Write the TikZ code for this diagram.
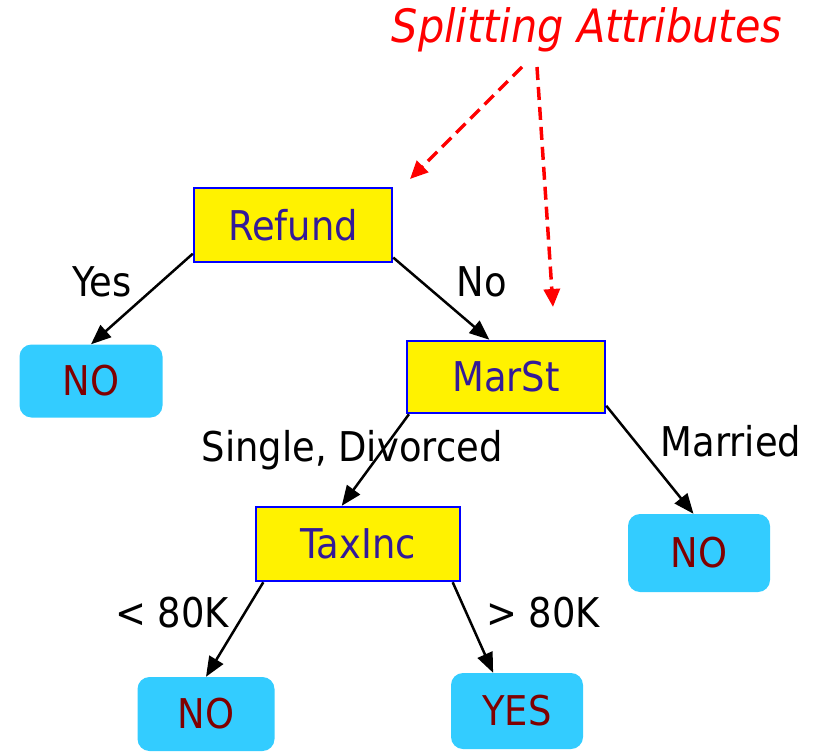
\documentclass[tikz,border=0pt]{standalone}
\usepackage{fontspec}
\setmainfont{DejaVu Sans}[FakeStretch=0.9]
\usetikzlibrary{arrows.meta}
\definecolor{leafblue}{HTML}{33CCFF}
\definecolor{leafred}{HTML}{800000}
\definecolor{attrink}{HTML}{331A99}
\tikzset{
	attrbox/.style={draw=blue, line width=2.5pt, fill=yellow, text=attrink, inner sep=0pt},
	leafbox/.style={fill=leafblue, rounded corners=12pt, text=leafred, inner sep=0pt},
	branch/.style={line width=2.5pt, -{Triangle[length=20pt,width=16pt]}},
	hint/.style={red, line width=3.5pt, dash pattern=on 13pt off 7pt, -{Triangle[length=18pt,width=16pt]}}
}
\begin{document}
\begin{tikzpicture}[x=1pt, y=1pt, font=\fontsize{41}{48}\selectfont]
	  \useasboundingbox (0,0) rectangle (817,-752);
	  \node[text=red, font=\fontsize{46}{54}\selectfont\itshape] (split) at (587,-30) {Splitting Attributes};
	  
	  \node[attrbox, minimum width=198, minimum height=74] (refund) at (293,-225) {Refund};
	  \node[attrbox, minimum width=198, minimum height=72] (marst) at (506,-377) {MarSt};
	  \node[attrbox, minimum width=204, minimum height=74] (taxinc) at (358,-544) {TaxInc};
	  \node[leafbox, minimum width=143, minimum height=73] (no1) at (91,-381) {NO};
	  \node[leafbox, minimum width=142, minimum height=78] (no2) at (699,-553) {NO};
	  \node[leafbox, minimum width=137, minimum height=74] (no3) at (206,-714) {NO};
	  \node[leafbox, minimum width=132, minimum height=76] (yes) at (517,-711) {YES};
	  
	  \node (lyes) at (102,-282) {Yes};
	  \node (lno) at (482,-282) {No};
	  \node (lsingle) at (352,-450) {Single, Divorced};
	  \node (lmarried) at (731,-441) {Married};
	  \node (llow) at (172,-613) {< 80K};
	  \node (lhigh) at (543,-613) {> 80K};
	  
	  \coordinate (s1) at (522,-67);
	  \coordinate (s2) at (537,-67);
	  \coordinate (t1) at (410,-179);
	  \coordinate (t2) at (553,-307);
	  
	  \draw[branch] (refund.196) -- (no1.north);
	  \draw[branch] (refund.342) -- (marst.114);
	  \draw[branch] (marst.201) -- (taxinc.113);
	  \draw[branch] (marst.344) -- (no2.98);
	  \draw[branch] (taxinc.202) -- (no3.north);
	  \draw[branch] (taxinc.338) -- (yes.122);
	  
	  \draw[hint] (s1) -- (t1);
	  \draw[hint] (s2) -- (t2);
	\end{tikzpicture}
\end{document}
